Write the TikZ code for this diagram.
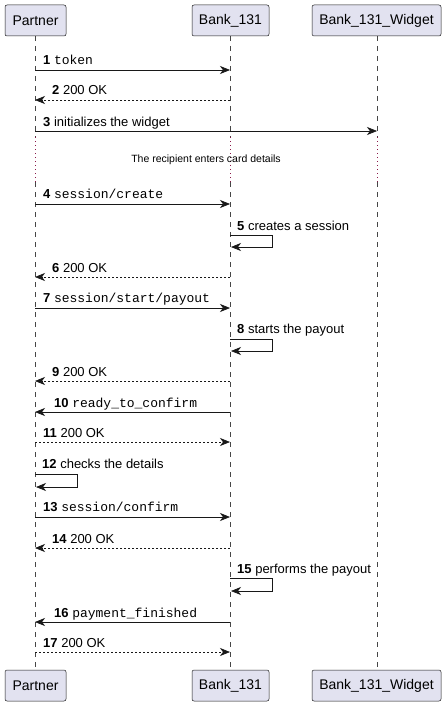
\documentclass[tikz,border=0pt]{standalone}
\usepackage{fontspec}
\setmainfont{Liberation Sans}
\newfontfamily\monofont{Liberation Mono}
\usetikzlibrary{arrows.meta}
\definecolor{boxfill}{HTML}{E2E2F0}
\definecolor{ink}{HTML}{181818}
\definecolor{delaycol}{HTML}{8B1A4A}
\tikzset{
  part/.style={draw=ink, fill=boxfill, rounded corners=2pt, line width=0.5pt, minimum height=31pt, inner xsep=6pt, font=\fontsize{14}{16}\selectfont, text=black},
  life/.style={draw=ink!80, line width=0.5pt, dash pattern=on 5pt off 5pt},
  delayline/.style={draw=delaycol, line width=0.6pt, dash pattern=on 1pt off 3pt},
  msg/.style={draw=ink, line width=0.7pt, -{Stealth[length=10pt,width=8pt,inset=3pt]}},
  ret/.style={msg, dash pattern=on 2pt off 2pt},
  lbl/.style={font=\fontsize{13}{15}\selectfont, inner sep=0pt, anchor=base west, text=black},
  mono/.style={lbl, font=\fontsize{13}{15}\selectfont\monofont}
}
\newcommand{\num}[1]{\textbf{#1}}
\begin{document}
\begin{tikzpicture}[x=1pt,y=-1pt]
\useasboundingbox (0,0) rectangle (447,706);
% lifelines
\coordinate (pT) at (35,36); \coordinate (pD1) at (35,137); \coordinate (pD2) at (35,182); \coordinate (pB) at (35,670);
\coordinate (bT) at (230,36); \coordinate (bD1) at (230,137); \coordinate (bD2) at (230,182); \coordinate (bB) at (230,670);
\coordinate (wT) at (377,36); \coordinate (wD1) at (377,137); \coordinate (wD2) at (377,182); \coordinate (wB) at (377,670);
\foreach \a in {p,b,w}{
  \draw[life] (\a T) -- (\a D1);
  \draw[delayline] (\a D1) -- (\a D2);
  \draw[life] (\a D2) -- (\a B);
}
% participants
\node[part, minimum width=61pt] (P1) at (35.5,20.5) {Partner};
\node[part, minimum width=77pt] (B1) at (230.5,20.5) {Bank\_131};
\node[part, minimum width=129pt] (W1) at (376.5,20.5) {Bank\_131\_Widget};
\node[part, minimum width=61pt] (P2) at (35.5,685.5) {Partner};
\node[part, minimum width=77pt] (B2) at (230.5,685.5) {Bank\_131};
\node[part, minimum width=129pt] (W2) at (376.5,685.5) {Bank\_131\_Widget};
% message anchors
\foreach \n/\y in {1/70,2/100,3/131,4/204,6/277,7/308,9/381,10/412,11/442,13/517,14/548,16/622,17/652}{
  \coordinate (p\n) at (35,\y); \coordinate (b\n) at (230,\y); \coordinate (w\n) at (377,\y);
}
% 1
\draw[msg] (p1) -- (b1);
\node[lbl] (t1) at (43,65) {\num{1} {\monofont token}};
% 2
\draw[ret] (b2) -- (p2);
\node[lbl] (t2) at (52,95) {\num{2} 200 OK};
% 3
\draw[msg] (p3) -- (w3);
\node[lbl] (t3) at (43,126) {\num{3} initializes the widget};
% delay
\node[font=\fontsize{10.5}{12}\selectfont, inner sep=0pt] (delay) at (206,160) {The recipient enters card details};
% 4
\draw[msg] (p4) -- (b4);
\node[lbl] (t4) at (43,198) {\num{4} {\monofont session/create}};
% 5 self
\coordinate (s5a) at (230,235); \coordinate (s5b) at (272,235); \coordinate (s5c) at (272,247); \coordinate (s5d) at (231,247);
\draw[msg] (s5a) -- (s5b) -- (s5c) -- (s5d);
\node[lbl] (t5) at (237,230) {\num{5} creates a session};
% 6
\draw[ret] (b6) -- (p6);
\node[lbl] (t6) at (52,272) {\num{6} 200 OK};
% 7
\draw[msg] (p7) -- (b7);
\node[lbl] (t7) at (43,302) {\num{7} {\monofont session/start/payout}};
% 8 self
\coordinate (s8a) at (230,339); \coordinate (s8b) at (272,339); \coordinate (s8c) at (272,351); \coordinate (s8d) at (231,351);
\draw[msg] (s8a) -- (s8b) -- (s8c) -- (s8d);
\node[lbl] (t8) at (237,333) {\num{8} starts the payout};
% 9
\draw[ret] (b9) -- (p9);
\node[lbl] (t9) at (52,376) {\num{9} 200 OK};
% 10
\draw[msg] (b10) -- (p10);
\node[lbl] (t10) at (54,407) {\num{10} {\monofont ready\_to\_confirm}};
% 11
\draw[ret] (p11) -- (b11);
\node[lbl] (t11) at (43,437) {\num{11} 200 OK};
% 12 self
\coordinate (s12a) at (35,474); \coordinate (s12b) at (77,474); \coordinate (s12c) at (77,487); \coordinate (s12d) at (36,487);
\draw[msg] (s12a) -- (s12b) -- (s12c) -- (s12d);
\node[lbl] (t12) at (42,468) {\num{12} checks the details};
% 13
\draw[msg] (p13) -- (b13);
\node[lbl] (t13) at (43,511) {\num{13} {\monofont session/confirm}};
% 14
\draw[ret] (b14) -- (p14);
\node[lbl] (t14) at (52,543) {\num{14} 200 OK};
% 15 self
\coordinate (s15a) at (230,578); \coordinate (s15b) at (272,578); \coordinate (s15c) at (272,591); \coordinate (s15d) at (231,591);
\draw[msg] (s15a) -- (s15b) -- (s15c) -- (s15d);
\node[lbl] (t15) at (237,573) {\num{15} performs the payout};
% 16
\draw[msg] (b16) -- (p16);
\node[lbl] (t16) at (54,617) {\num{16} {\monofont payment\_finished}};
% 17
\draw[ret] (p17) -- (b17);
\node[lbl] (t17) at (43,647) {\num{17} 200 OK};
\end{tikzpicture}
\end{document}
